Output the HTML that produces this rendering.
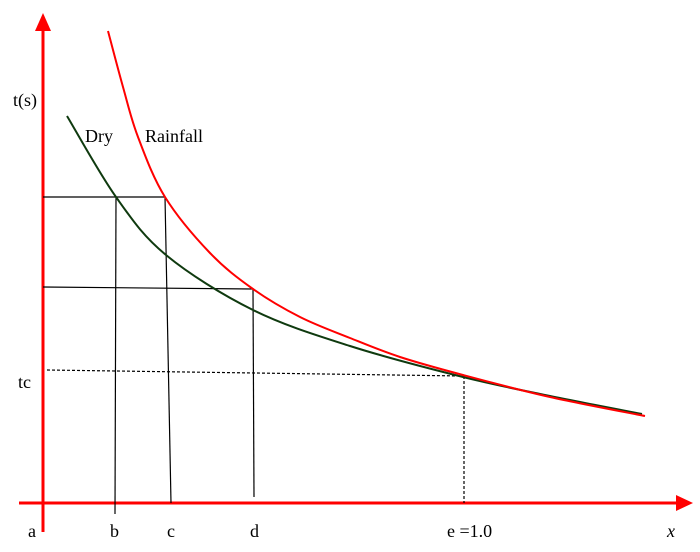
<!DOCTYPE html>
<html><head><style>
html,body{margin:0;padding:0;background:#fff;}
svg{display:block;}
text{font-family:"Liberation Serif",serif;font-size:18px;fill:#000;}
</style></head><body>
<svg id="s" width="700" height="552" viewBox="0 0 700 552" xmlns="http://www.w3.org/2000/svg">
<line x1="43" y1="30" x2="43" y2="532" stroke="#f00" stroke-width="3"/>
<polygon points="43,13 35,31 51,31" fill="#f00"/>
<line x1="19" y1="503" x2="678" y2="503" stroke="#f00" stroke-width="3"/>
<polygon points="693,503 676,495 676,511" fill="#f00"/>
<g stroke="#000" stroke-width="1.2" fill="none">
<line x1="43" y1="197" x2="165" y2="197"/>
<line x1="43" y1="287" x2="253" y2="289"/>
<line x1="116" y1="197" x2="115" y2="514"/>
<line x1="165" y1="197" x2="171" y2="503"/>
<line x1="253" y1="289" x2="254" y2="497"/>
<line x1="47" y1="370" x2="463" y2="376" stroke-dasharray="3,2"/>
<line x1="464" y1="376" x2="464" y2="503" stroke-dasharray="3,2"/>
</g>
<path id="dry" fill="none" stroke="#0f3a0f" stroke-width="2"/>
<path id="rain" fill="none" stroke="#f00" stroke-width="2"/>
<text x="13" y="106">t(s)</text>
<text x="85" y="142">Dry</text>
<text x="145" y="142">Rainfall</text>
<text x="18" y="388">tc</text>
<text x="28" y="537">a</text>
<text x="110" y="537">b</text>
<text x="167" y="537">c</text>
<text x="250" y="537">d</text>
<text x="447" y="537">e =1.0</text>
<text x="667" y="537" font-style="italic">x</text>
</svg>
<script>
function cr(p){var d="M"+p[0][0]+","+p[0][1];for(var i=0;i<p.length-1;i++){var a=p[i-1]||p[i],b=p[i],c=p[i+1],e=p[i+2]||c;
d+=" C"+(b[0]+(c[0]-a[0])/6)+","+(b[1]+(c[1]-a[1])/6)+" "+(c[0]-(e[0]-b[0])/6)+","+(c[1]-(e[1]-b[1])/6)+" "+c[0]+","+c[1];}return d;}
document.getElementById("dry").setAttribute("d",cr([[67,116],[116,197],[166,255],[253,310],[350,346],[463,377],[550,396],[642,414]]));
document.getElementById("rain").setAttribute("d",cr([[108,31],[123,87],[138,137],[165,197],[210,253],[253,289],[300,317],[350,338],[400,357],[463,375],[550,397],[645,416]]));
</script>
</body></html>
